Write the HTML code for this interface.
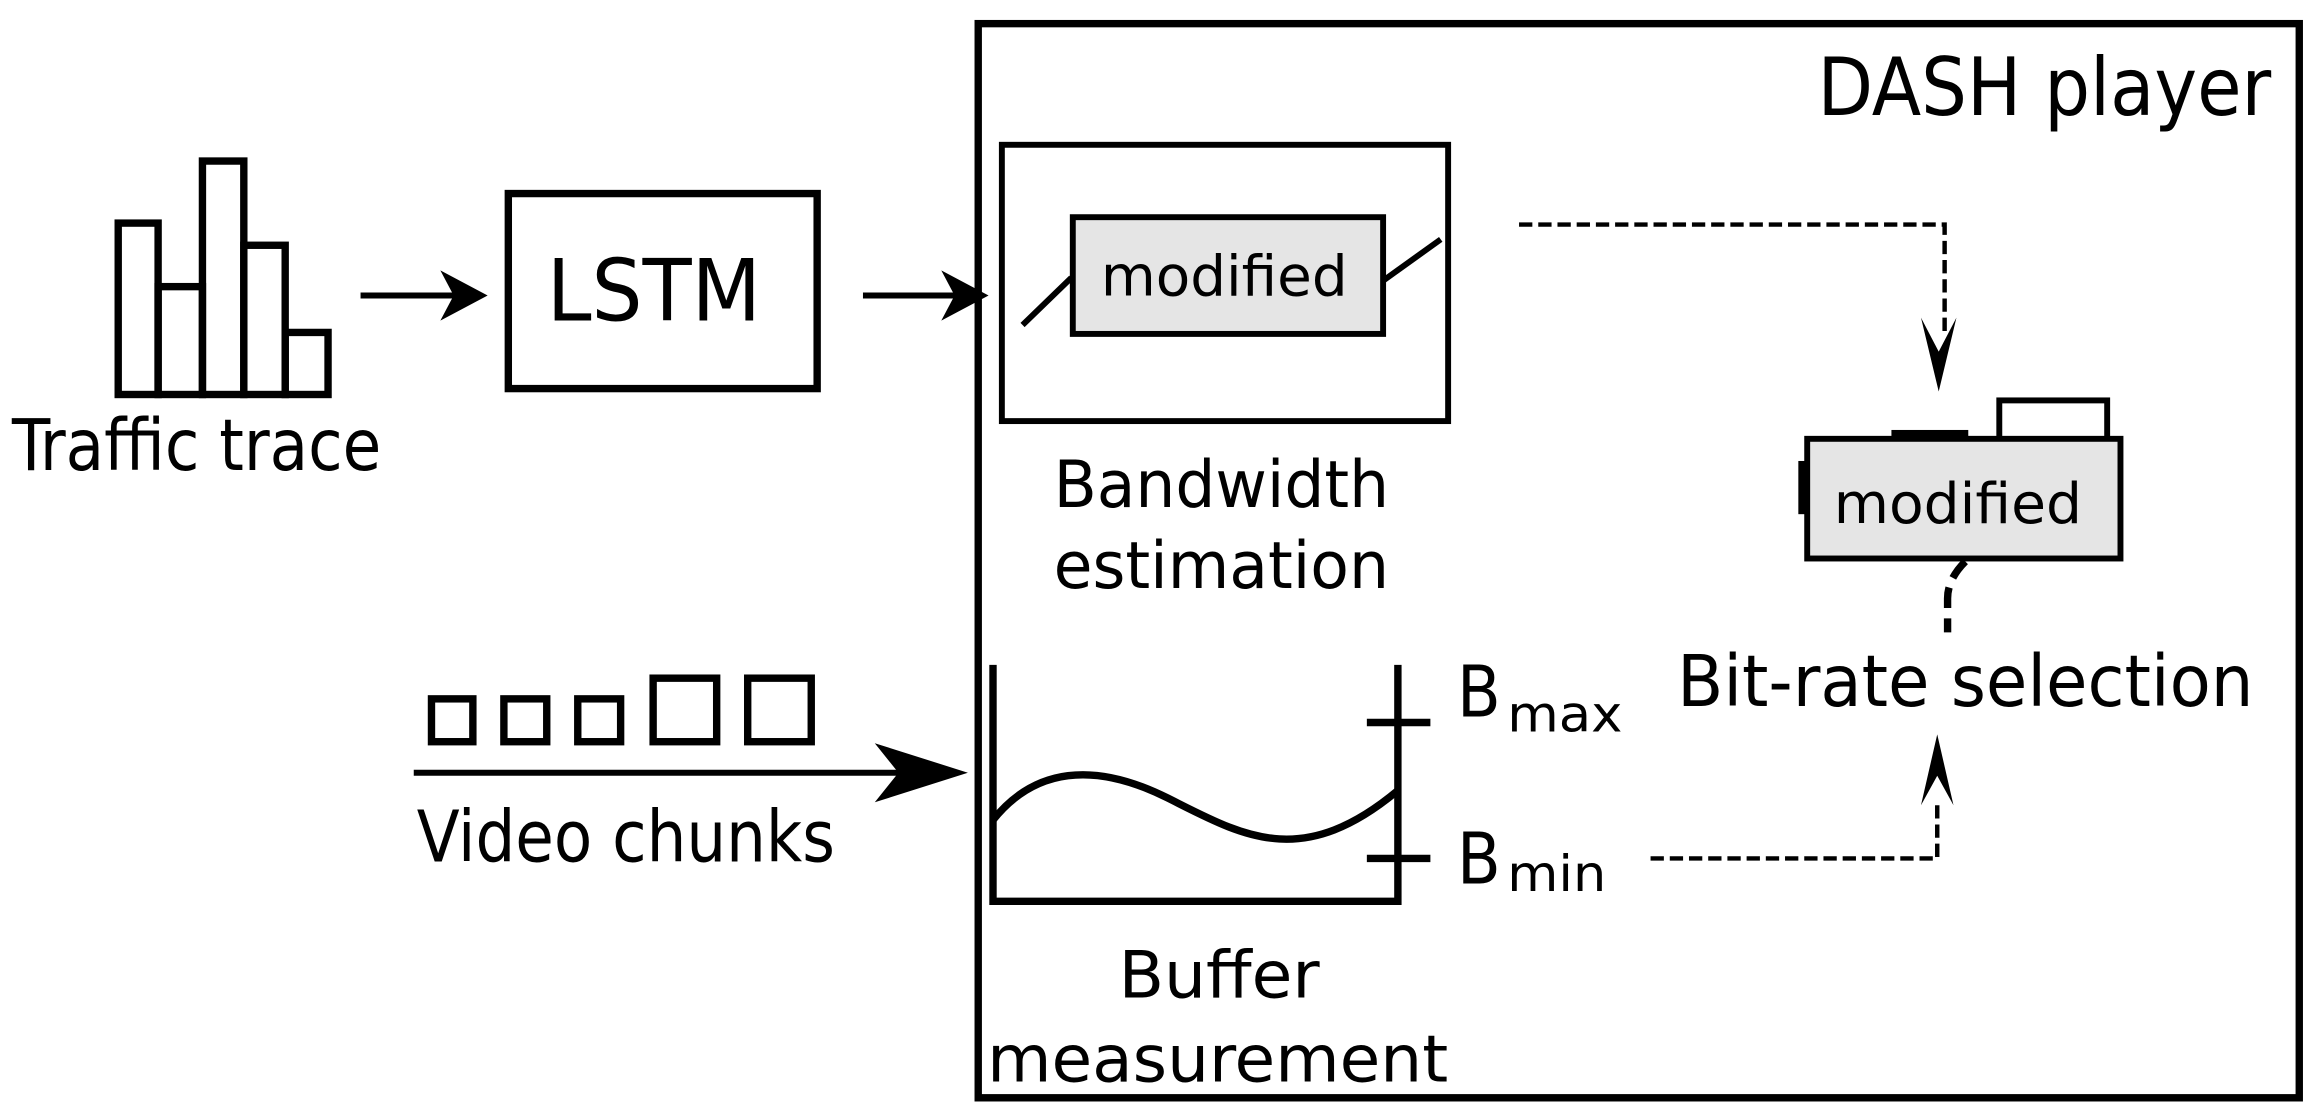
<!DOCTYPE html>
<html><head><meta charset="utf-8"><style>
html,body{margin:0;padding:0;background:#fff}
svg{display:block}
text{font-family:"DejaVu Sans Condensed","DejaVu Sans","Liberation Sans",sans-serif;fill:#000}
</style></head><body>
<svg width="2317" height="1117" viewBox="0 0 1568 756" preserveAspectRatio="none" xmlns="http://www.w3.org/2000/svg">
<rect width="1568" height="756" fill="#fff"/>
<g fill="none" stroke="#000" stroke-width="5">
<rect x="80" y="151" width="27" height="116"/>
<rect x="107" y="194" width="30" height="73"/>
<rect x="137" y="109" width="28" height="158"/>
<rect x="165" y="166" width="28" height="101"/>
<rect x="193" y="225" width="29" height="42"/>
<rect x="344" y="131" width="209" height="132"/>
<rect x="662" y="16" width="894" height="727"/>
<rect x="678" y="98" width="302" height="187" stroke-width="4"/>
</g>
<g stroke="#000" stroke-width="4">
<line x1="244" y1="200" x2="310" y2="200"/>
<line x1="584" y1="200" x2="650" y2="200"/>
<line x1="280" y1="523" x2="630" y2="523"/>
</g>
<polygon points="330,200 298,183 307,200 298,217" fill="#000"/>
<polygon points="669,200 637,183 646,200 637,217" fill="#000"/>
<polygon points="655,523 592,503 608,523 592,543" fill="#000"/>
<text x="8" y="318" font-size="48" textLength="250" lengthAdjust="spacingAndGlyphs">Traffic trace</text>
<text x="370" y="217" font-size="58" textLength="145" lengthAdjust="spacingAndGlyphs">LSTM</text>
<text x="1230" y="78" font-size="54" textLength="307" lengthAdjust="spacingAndGlyphs">DASH player</text>
<path d="M692,220 L725,188 M936,190 L975,162" fill="none" stroke="#000" stroke-width="4"/>
<rect x="726" y="147" width="210" height="79" fill="#e5e5e5" stroke="#000" stroke-width="4"/>
<text x="745" y="200" font-size="38" textLength="167" lengthAdjust="spacingAndGlyphs">modified</text>
<text x="713" y="343" font-size="44" textLength="227" lengthAdjust="spacingAndGlyphs">Bandwidth</text>
<text x="713" y="398" font-size="44" textLength="227" lengthAdjust="spacingAndGlyphs">estimation</text>
<path d="M1028,152 H1316 V228" fill="none" stroke="#000" stroke-width="3" stroke-dasharray="9,4"/>
<polygon points="1312,265 1300,215 1312,238 1324,215" fill="#000"/>
<rect x="1353" y="271" width="73" height="27" fill="#fff" stroke="#000" stroke-width="4"/>
<rect x="1280" y="291" width="52" height="7" fill="#000"/>
<rect x="1217" y="312" width="5" height="36" fill="#000"/>
<rect x="1223" y="297" width="212" height="81" fill="#e5e5e5" stroke="#000" stroke-width="4"/>
<text x="1241" y="354" font-size="38" textLength="168" lengthAdjust="spacingAndGlyphs">modified</text>
<path d="M1330,380 Q1318,392 1318,405 V428" fill="none" stroke="#000" stroke-width="5" stroke-dasharray="14,7"/>
<text x="1135" y="478" font-size="48" textLength="390" lengthAdjust="spacingAndGlyphs">Bit-rate selection</text>
<path d="M1117,581 H1311 V545" fill="none" stroke="#000" stroke-width="3" stroke-dasharray="9,4"/>
<polygon points="1311,497 1300,545 1311,525 1322,545" fill="#000"/>
<path d="M672,450 V610 H946 V450" fill="none" stroke="#000" stroke-width="5"/>
<line x1="925" y1="489" x2="968" y2="489" stroke="#000" stroke-width="5"/>
<line x1="925" y1="581" x2="968" y2="581" stroke="#000" stroke-width="5"/>
<path d="M672,555 C700,520 740,515 790,540 S880,590 946,535" fill="none" stroke="#000" stroke-width="5"/>
<text x="986" y="485" font-size="48">B</text>
<text x="1020" y="495" font-size="34" textLength="78" lengthAdjust="spacingAndGlyphs">max</text>
<text x="986" y="598" font-size="48">B</text>
<text x="1020" y="603" font-size="34" textLength="67" lengthAdjust="spacingAndGlyphs">min</text>
<text x="757" y="675" font-size="44" textLength="136" lengthAdjust="spacingAndGlyphs">Buffer</text>
<text x="668" y="732" font-size="44" textLength="312" lengthAdjust="spacingAndGlyphs">measurement</text>
<g fill="none" stroke="#000" stroke-width="5">
<rect x="292" y="473" width="28" height="29"/>
<rect x="341" y="473" width="29" height="29"/>
<rect x="391" y="473" width="29" height="29"/>
<rect x="442" y="459" width="43" height="43"/>
<rect x="506" y="459" width="43" height="43"/>
</g>
<text x="282" y="583" font-size="48" textLength="283" lengthAdjust="spacingAndGlyphs">Video chunks</text>
</svg>
</body></html>
